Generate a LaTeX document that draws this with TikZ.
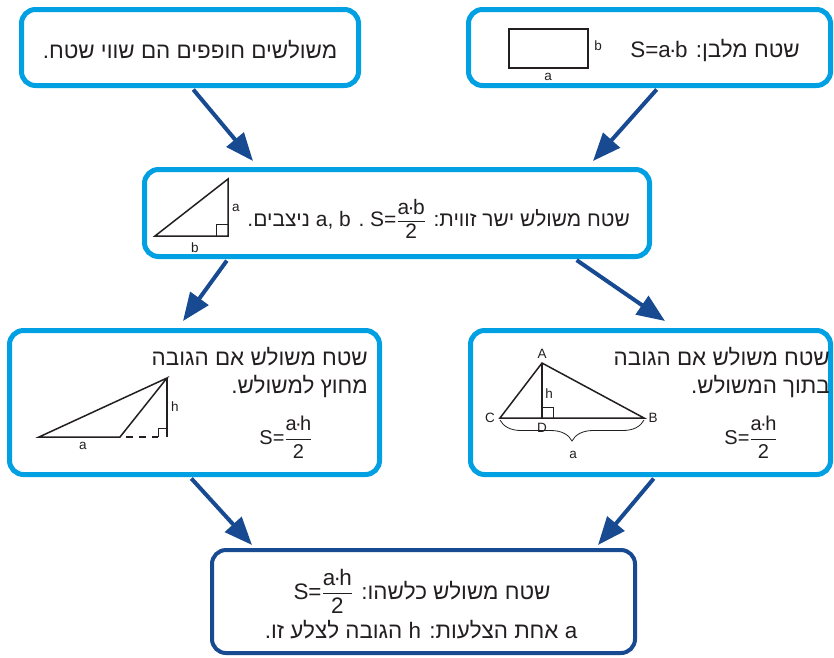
\documentclass[tikz,border=0pt]{standalone}
\usepackage{amsmath}
\usepackage{fontspec}
\setmainfont{Liberation Sans}
\newfontfamily\hebfont[Script=Hebrew, Scale=1.12]{Liberation Sans}
\usetikzlibrary{positioning}
\usetikzlibrary{arrows.meta}
\usetikzlibrary{decorations.pathreplacing}
\TeXXeTstate=1

\definecolor{lightblue}{RGB}{0,160,227}
\definecolor{darkblue}{RGB}{24,74,146}
\definecolor{ink}{RGB}{35,31,32}

\newcommand{\heb}[1]{{\hebfont\beginR #1\endR}}
\newcommand{\ltr}[1]{\beginL #1\endL{}}
\newcommand{\md}{\kern-1.6pt·\kern-1.6pt}
\newcommand{\frc}[2]{$\dfrac{\text{#1}}{\text{#2}}$}

\begin{document}
\begin{tikzpicture}[x=1pt, y=-1pt,
    box/.style={draw=lightblue, line width=5pt, rounded corners=14pt, fill=white, inner sep=0pt},
    darkbox/.style={draw=darkblue, line width=4pt, rounded corners=14pt, fill=white, inner sep=0pt},
    arr/.style={draw=darkblue, line width=4pt, shorten <=2pt, -{Triangle[length=28pt, width=22pt]}},
    txt/.style={text=ink, font=\fontsize{20}{30}\selectfont, inner sep=0pt},
    lbl/.style={text=ink, font=\fontsize{13.5}{15}\selectfont, inner sep=1pt},
    fig/.style={draw=ink, line width=1.5pt}]
        \useasboundingbox (0,0) rectangle (834,657);

        % The six boxes
        \node[box, minimum width=337pt, minimum height=76pt] (congr) at (190,47.5) {};
        \node[box, minimum width=362pt, minimum height=76pt] (rect) at (649.5,47.5) {};
        \node[box, minimum width=505pt, minimum height=87pt] (right) at (397,213) {};
        \node[box, minimum width=370pt, minimum height=144pt] (outside) at (194.5,402.5) {};
        \node[box, minimum width=360pt, minimum height=144pt] (inside) at (650.5,402.5) {};
        \node[darkbox, minimum width=423pt, minimum height=103pt] (any) at (423.5,601.5) {};

        % Arrows between the boxes
        \draw[arr] ([xshift=2pt]congr.south) -- ([xshift=-144pt, yshift=6pt]right.north);
        \draw[arr] ([xshift=8.5pt]rect.south) -- ([xshift=196pt, yshift=6pt]right.north);
        \draw[arr] ([xshift=-169pt]right.south) -- ([xshift=-11.5pt, yshift=7pt]outside.north);
        \draw[arr] ([xshift=178pt]right.south) -- ([xshift=14.5pt, yshift=7pt]inside.north);
        \draw[arr] ([xshift=-4.5pt]outside.south) -- ([xshift=-171.5pt, yshift=3pt]any.north);
        \draw[arr] ([xshift=4.5pt]inside.south) -- ([xshift=174.5pt, yshift=3pt]any.north);

        % Congruent triangles
        \node[txt] (ctxt) at (190,50) {\heb{משולשים חופפים הם שווי שטח.}};

        % Rectangle
        \draw[fig] (509,29) rectangle (588,68);
        \node[lbl] (rb) at (598,46) {b};
        \node[lbl] (ra) at (548,77) {a};
        \node[txt, anchor=east] (rtxt) at (800,50) {\heb{שטח מלבן: \ltr{S=a\md b}}};

        % Right triangle
        \draw[fig] (155,236) -- (228,236) -- (228,179) -- cycle;
        \draw[fig, line width=1pt] (216,236) |- (228,224);
        \node[lbl] (ta) at (236,208) {a};
        \node[lbl] (tb) at (195,248) {b};
        \node[txt, font=\fontsize{18.7}{28}\selectfont, anchor=east] (ttxt) at (630,219) {\heb{שטח משולש ישר זווית: \ltr{S=\frc{a\md b}{2}} . \ltr{a, b} ניצבים.}};

        % Height outside the triangle
        \draw[fig] (39,437) -- (120,437) -- (167,378) -- cycle;
        \draw[fig] (167,378) -- (167,437);
        \draw[fig, dash pattern=on 7pt off 6pt, dash phase=-6pt] (120,437) -- (158,437);
        \draw[fig, line width=1pt] (158,437) |- (167,428);
        \node[lbl] (oh) at (175,407) {h};
        \node[lbl] (oa) at (83,446) {a};
        \node[txt, anchor=base east] (otxt1) at (368,365) {\heb{שטח משולש אם הגובה}};
        \node[txt, anchor=base east] (otxt2) at (368,393) {\heb{מחוץ למשולש.}};
        \node[txt] (oform) at (286,437) {\ltr{S=\frc{a\md h}{2}}};

        % Height inside the triangle
        \draw[fig] (500,418) -- (644,418) -- (542,363) -- cycle;
        \draw[fig] (542,363) -- (542,418);
        \draw[fig, line width=1pt] (542,407) -| (553,418);
        \draw[ink, line width=0.8pt, decorate, decoration={brace, amplitude=21pt, mirror}] (500,420) -- (644,420);
        \node[lbl] (iA) at (542,354) {A};
        \node[lbl] (iC) at (490,418) {C};
        \node[lbl] (iB) at (653,418) {B};
        \node[lbl] (iD) at (542,428) {D};
        \node[lbl] (ih) at (549,394) {h};
        \node[lbl] (ia) at (573,455) {a};
        \node[txt, anchor=base east] (itxt1) at (830,365) {\heb{שטח משולש אם הגובה}};
        \node[txt, anchor=base east] (itxt2) at (830,393) {\heb{בתוך המשולש.}};
        \node[txt] (iform) at (751,437) {\ltr{S=\frc{a\md h}{2}}};

        % Any triangle
        \node[txt] (atxt1) at (422,591) {\heb{שטח משולש כלשהו: \ltr{S=\frc{a\md h}{2}}}};
        \node[txt] (atxt2) at (421,630) {\heb{\ltr{a} אחת הצלעות: \ltr{h} הגובה לצלע זו.}};
      \end{tikzpicture}
\end{document}
